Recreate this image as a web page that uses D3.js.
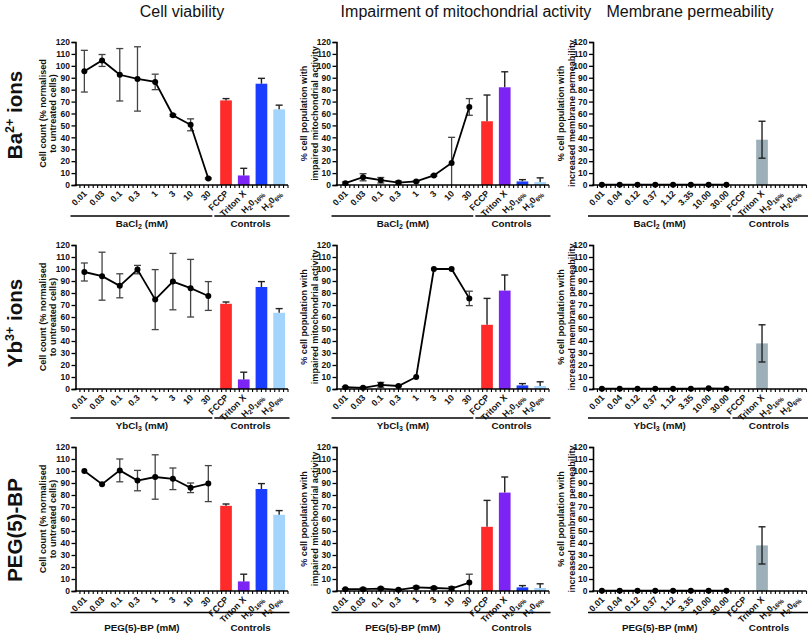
<!DOCTYPE html>
<html><head><meta charset="utf-8">
<script src="https://cdn.jsdelivr.net/npm/d3@7"></script>
<style>body{margin:0;background:#fff} text{font-family:"Liberation Sans",Arial,sans-serif}</style>
</head><body><svg id="c" width="810" height="636"></svg>
<script>
// ---------- data ----------
const columnTitles = ["Cell viability", "Impairment of mitochondrial activity", "Membrane permeability"];
const concLabels = ["0.01","0.03","0.1","0.3","1","3","10","30"];
const membraneLabels = ["0.01","0.04","0.12","0.37","1.12","3.35","10.00","30.00"];
const controlLabels = ["FCCP","Triton X","H2O16%","H2O6%"];
const yTicks = [0,10,20,30,40,50,60,70,80,90,100,110,120];

const baViability    = [95.5,104.5,92.5,89,86.5,58.5,50.5,5.5];
const baViabilityErr = [17.5,5,22,27,6.5,0.8,5,0.5];
const baMito         = [1.5,6.5,4,2,3,8,18.5,65.5];
const baMitoErr      = [1,3,2.3,1.3,0.5,0.6,21.5,7];
const baMembrane     = [0.3,0.3,0.3,0.3,0.3,0.3,0.3,0.3];
const baMembraneErr  = [0,0,0,0,0,0,0,0];

const ybViability    = [97.5,94,86,99.5,74.5,89.5,84,77.5];
const ybViabilityErr = [7.5,20,10,3.5,25,23.5,24,12];
const ybMito         = [1.5,1,3.5,2.5,10,100,100,75.5];
const ybMitoErr      = [0.5,0.5,2,0.5,0,0,0,6];
const ybMembrane     = [0.3,0.3,0.2,0.2,0.2,0.2,0.6,0.2];
const ybMembraneErr  = [0,0,0,0,0,0,0,0];

const pegViability    = [100,89,100.5,92,95,93.5,86,89.5];
const pegViabilityErr = [0,0,9.5,8.5,18.5,9,4,15];
const pegMito         = [1.5,1.5,2,1,3,2.5,2,7];
const pegMitoErr      = [0.5,1,1,0.5,1,1,1.5,7];
const pegMembrane     = [0.2,0.2,0.2,0.2,0.2,0.2,0.2,0.2];
const pegMembraneErr  = [0,0,0,0,0,0,0,0];

const ctrlViability    = [71,8,85,63.5];
const ctrlViabilityErr = [1.5,6,4.5,3.5];
const ctrlMito         = [53.5,82,3,2.5];
const ctrlMitoErr      = [22,13,1.5,3.5];
const ctrlMembrane     = [0,38,0,0];
const ctrlMembraneErr  = [0,15.5,0,0];

const rowLabels = [["Ba","2+"," ions"],["Yb","3+"," ions"],["PEG(5)-BP","",""]];
const rowCompounds = [["BaCl","2"," (mM)"],["YbCl","3"," (mM)"],["PEG(5)-BP (mM)","",""]];

// ---------- layout ----------
const svg = d3.select("#c");
const colX = [[75.5,288],[336.5,549],[593,806.5]];
const rowY = [[185,42],[389,245],[591,447]];
const bracketY = [216,418,612.5];
const bracketLabelDy = [10.5,10.5,18.5];
const rowLabelY = [115,323,530];
const ctrlColors = ["#ff2b2b","#7b24f4","#1a3dff","#a3d4fb"];
const membraneColor = "#9db0b9";

const viab = [[baViability,baViabilityErr],[ybViability,ybViabilityErr],[pegViability,pegViabilityErr]];
const mito = [[baMito,baMitoErr],[ybMito,ybMitoErr],[pegMito,pegMitoErr]];
const memb = [[baMembrane,baMembraneErr],[ybMembrane,ybMembraneErr],[pegMembrane,pegMembraneErr]];
const ctrls = [[ctrlViability,ctrlViabilityErr],[ctrlMito,ctrlMitoErr],[ctrlMembrane,ctrlMembraneErr]];

// column titles
const titleX = [182,466,690];
columnTitles.forEach((t,i)=>{
  svg.append("text").attr("x",titleX[i]).attr("y",17).attr("text-anchor","middle")
    .attr("font-size",16).attr("fill","#111").text(t);
});

// row labels
rowLabels.forEach((r,i)=>{
  const t = svg.append("text").attr("transform",`translate(22,${rowLabelY[i]}) rotate(-90)`)
    .attr("text-anchor","middle").attr("font-size",20.5).attr("font-weight","bold").attr("fill","#111");
  t.append("tspan").text(r[0]);
  if (r[1]) {
    t.append("tspan").attr("dy",-8).attr("font-size",12.5).text(r[1]);
    t.append("tspan").attr("dy",8).text(r[2]);
  }
});

const yTitles = [
  [["Cell count (% normalised"],["to untreated cells)"]],
  [["%","cell population with"],["impaired mitochondrial activity"]],
  [["%","cell population with"],["increased membrane permeability"]]
];
const yTitleX = [[45.5,56],[306.5,317.5],[564,575]];

function drawPanel(r,c){
  const g = svg.append("g");
  const [x0,x1] = colX[c];
  const [y0,y1] = rowY[r];
  const labels = (c===2 ? membraneLabels : concLabels).concat(controlLabels);
  const x = d3.scalePoint().domain(labels).range([x0,x1]).padding(0.5);
  const step = x.step();
  const y = d3.scaleLinear().domain([0,120]).range([y0,y1]).clamp(true);
  const [vals,errs] = (c===0?viab:c===1?mito:memb)[r];
  const [cv,ce] = ctrls[c];
  const ptLabels = labels.slice(0,8);
  const bw = 11.7;

  // bars
  controlLabels.forEach((k,i)=>{
    const cx = x(k);
    const col = c===2 ? membraneColor : ctrlColors[i];
    if (cv[i]>0) g.append("rect").attr("x",cx-bw/2).attr("width",bw)
      .attr("y",y(cv[i])).attr("height",y(0)-y(cv[i])).attr("fill",col);
    if (ce[i]>0){
      const lo = c===2 ? cv[i]-ce[i] : cv[i], hi = cv[i]+ce[i];
      g.append("line").attr("x1",cx).attr("x2",cx).attr("y1",y(lo)).attr("y2",y(hi)).attr("stroke","#222").attr("stroke-width",1.4);
      g.append("line").attr("x1",cx-3.5).attr("x2",cx+3.5).attr("y1",y(hi)).attr("y2",y(hi)).attr("stroke","#222").attr("stroke-width",1.4);
      if (c===2) g.append("line").attr("x1",cx-3.5).attr("x2",cx+3.5).attr("y1",y(lo)).attr("y2",y(lo)).attr("stroke","#222").attr("stroke-width",1.4);
    }
  });

  // error bars for points
  ptLabels.forEach((k,i)=>{
    if (errs[i]<=0) return;
    const cx = x(k);
    const lo = vals[i]-errs[i], hi = vals[i]+errs[i];
    g.append("line").attr("x1",cx).attr("x2",cx).attr("y1",y(lo)).attr("y2",y(hi)).attr("stroke","#444").attr("stroke-width",1.3);
    [hi, lo].forEach(v=>{ if (v>0) g.append("line").attr("x1",cx-3.5).attr("x2",cx+3.5).attr("y1",y(v)).attr("y2",y(v)).attr("stroke","#444").attr("stroke-width",1.3);});
  });

  // line + points
  const line = d3.line().x((d,i)=>x(ptLabels[i])).y(d=>y(d));
  g.append("path").attr("d",line(vals)).attr("fill","none").attr("stroke","#000").attr("stroke-width",1.8);
  g.selectAll("circle.p").data(vals).join("circle").attr("cx",(d,i)=>x(ptLabels[i])).attr("cy",d=>y(d)).attr("r",3).attr("fill","#000");

  // y axis
  const ya = g.append("g").attr("transform",`translate(${x0},0)`)
    .call(d3.axisLeft(y).tickValues(yTicks).tickSize(4).tickPadding(1.5));
  ya.select(".domain").attr("stroke","#000").attr("stroke-width",1.6);
  ya.selectAll(".tick line").attr("stroke","#000").attr("stroke-width",1.3);
  ya.selectAll(".tick text").attr("font-size",8.5).attr("font-weight","bold").attr("fill","#111")
    .attr("font-family","'Liberation Sans',Arial,sans-serif");

  // x axis
  g.append("line").attr("x1",x0-0.8).attr("x2",x1).attr("y1",y0).attr("y2",y0).attr("stroke","#000").attr("stroke-width",1.6);
  const minor = d3.range(x0+step/4, x1, step/4);
  g.selectAll("line.m").data(minor).join("line").attr("x1",d=>d).attr("x2",d=>d)
    .attr("y1",y0).attr("y2",y0+3).attr("stroke","#000").attr("stroke-width",1.1);

  // x tick labels
  labels.forEach(k=>{
    const t = g.append("text").attr("transform",`translate(${x(k)+3},${y0+9.2}) rotate(-45)`)
      .attr("text-anchor","end").attr("font-size",8.8).attr("font-weight","bold").attr("fill","#111");
    const m = k.match(/^H2O(\d+%)$/);
    if (m){
      t.append("tspan").text("H");
      t.append("tspan").attr("font-size",6.5).attr("dy",2).text("2");
      t.append("tspan").attr("dy",-2).text("0");
      t.append("tspan").attr("font-size",6.5).attr("dy",2).text(m[1]);
    } else t.text(k);
  });

  // brackets
  const by = bracketY[r];
  const split = x(ptLabels[7]) + 5;
  g.append("line").attr("x1",x0-5).attr("x2",split-1).attr("y1",by).attr("y2",by).attr("stroke","#000").attr("stroke-width",1.5);
  g.append("line").attr("x1",split+1).attr("x2",x1+1.5).attr("y1",by).attr("y2",by).attr("stroke","#000").attr("stroke-width",1.5);
  const comp = rowCompounds[r];
  const ly = by + bracketLabelDy[r];
  const lt = g.append("text").attr("x",(x0-5+split)/2).attr("y",ly).attr("text-anchor","middle")
    .attr("font-size",9.8).attr("font-weight","bold").attr("fill","#111");
  lt.append("tspan").text(comp[0]);
  if (comp[1]) { lt.append("tspan").attr("font-size",7).attr("dy",2).text(comp[1]); lt.append("tspan").attr("dy",-2).text(comp[2]); }
  g.append("text").attr("x",(split+x1)/2).attr("y",ly).attr("text-anchor","middle")
    .attr("font-size",9.8).attr("font-weight","bold").attr("fill","#111").text("Controls");

  // y title
  const ym = (y0+y1)/2;
  yTitles[c].forEach((ln,li)=>{
    const t = g.append("text").attr("transform",`translate(${yTitleX[c][li]},${ym}) rotate(-90)`)
      .attr("text-anchor","middle").attr("font-size",9.1).attr("font-weight","bold").attr("fill","#111");
    if (ln.length===2){
      t.append("tspan").attr("fill", c===1 ? "#23235e" : "#111").text(ln[0]);
      t.append("tspan").text(" " + ln[1]);
    } else t.text(ln[0]);
  });
}

for (let r=0;r<3;r++) for (let c=0;c<3;c++) drawPanel(r,c);
</script></body></html>
